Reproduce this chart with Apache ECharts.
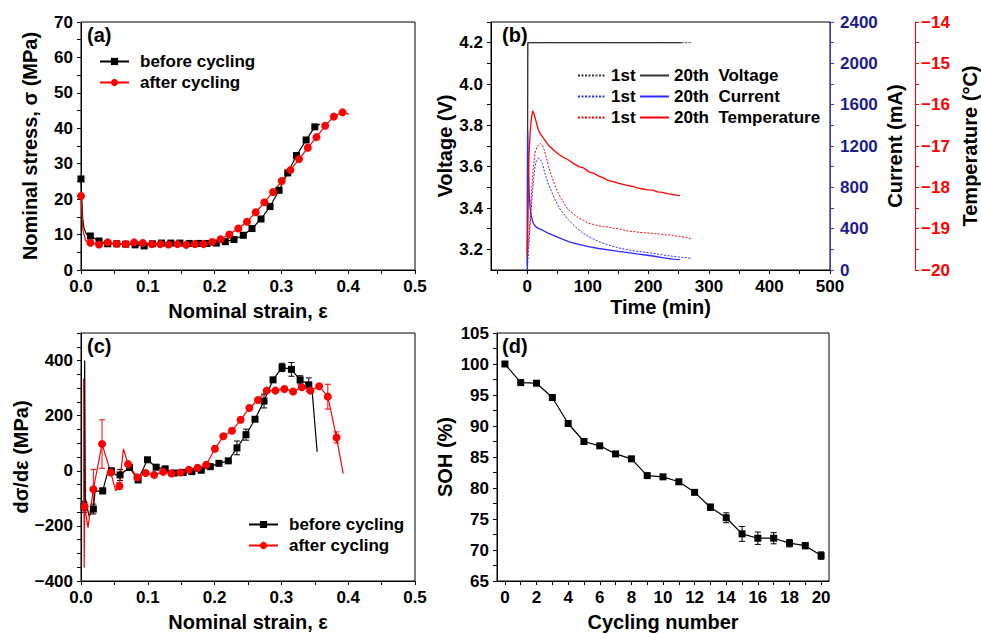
<!DOCTYPE html>
<html>
<head>
<meta charset="utf-8">
<title>Stress-strain and cycling</title>
<script src="https://cdn.jsdelivr.net/npm/echarts@6/dist/echarts.min.js"></script>
<style>
  html, body { margin: 0; padding: 0; background: #fff; }
  #main { width: 981px; height: 634px; }
</style>
</head>
<body>
<div id="main"></div>
<script>
var FONT = "'Liberation Sans', Arial, sans-serif";

// ---------- (a) nominal stress vs strain ----------
var aBeforeStrain = [0, 0.014, 0.027, 0.04, 0.0535, 0.067, 0.081, 0.0945, 0.107, 0.1205, 0.1345, 0.148, 0.162, 0.176, 0.1885, 0.2025, 0.216, 0.229, 0.243, 0.256, 0.2695, 0.283, 0.2965, 0.3095, 0.3225, 0.337, 0.35];
var aBeforeStress = [25.7, 9.6, 8.2, 7.4, 7.4, 7.3, 7.1, 6.8, 7.4, 7.6, 7.6, 7.6, 7.5, 7.5, 7.5, 7.6, 8.0, 8.6, 9.8, 11.7, 14.4, 17.9, 22.5, 27.4, 32.3, 36.7, 40.4];
var aBeforeExtra = [[0.0025, 14.5], [0.0045, 11.8], [0.008, 10.2], [0.358, 41.2]];
var aAfterStrain = [0, 0.014, 0.027, 0.04, 0.0535, 0.067, 0.0795, 0.0925, 0.106, 0.1185, 0.131, 0.1445, 0.1575, 0.1705, 0.1835, 0.1965, 0.209, 0.222, 0.2355, 0.2485, 0.2615, 0.2745, 0.2875, 0.3005, 0.3135, 0.3265, 0.3395, 0.3525, 0.3655, 0.3785, 0.3915];
var aAfterStress = [20.9, 7.7, 7.2, 7.8, 7.4, 7.3, 7.8, 7.6, 7.3, 7.3, 7.2, 7.3, 7.1, 7.3, 7.3, 7.9, 8.7, 10.0, 11.7, 13.6, 16.3, 19.1, 22.0, 25.1, 28.2, 31.3, 34.5, 37.5, 40.7, 43.3, 44.5];
var aAfterExtra = [[0.003, 11], [0.007, 8.3], [0.401, 44]];
var aStrainLabels = [0, 0.1, 0.2, 0.3, 0.4, 0.5];
var aStressLabels = [0, 10, 20, 30, 40, 50, 60, 70];

// ---------- (b) charging curves ----------
var bVolt1T = [0, 0.5, 270];
var bVolt1 = [3.15, 4.2, 4.2];
var bVolt20T = [0, 0.8, 255];
var bVolt20 = [3.12, 4.2, 4.2];
var bCur1T = [0, 2, 4.5, 7.2, 10, 12.7, 15, 18, 21, 25, 29, 35, 40, 46, 55, 68, 80, 90, 101, 118, 134, 150, 167, 181, 195, 212, 230, 250, 272];
var bCur1 = [0, 180, 420, 645, 850, 1000, 1060, 1081, 1075, 1030, 936, 830, 760, 677, 580, 484, 415, 365, 323, 275, 242, 215, 194, 182, 171, 157, 140, 126, 113];
var bCur20T = [0, 0.5, 1.5, 3, 4.4, 6.5, 9.9, 14, 18, 25, 35, 50, 68, 85, 101, 118, 134, 150, 167, 181, 195, 210, 225, 240, 252];
var bCur20 = [0, 1350, 1050, 760, 613, 520, 452, 420, 403, 385, 355, 318, 274, 248, 226, 208, 194, 180, 168, 156, 145, 133, 118, 106, 100];
var bTemp1T = [0, 2, 4.4, 7, 10, 12.7, 16, 19, 22, 25, 28, 31, 35, 39, 43, 47, 51, 56, 62, 68, 76, 85, 93, 101, 110, 118, 126, 134, 142, 150, 159, 167, 176, 185, 194, 204, 212, 220, 229, 237, 246, 255, 264, 272];
var bTemp1 = [-19.7, -19.3, -18.79, -18.1, -17.5, -17.17, -17.02, -16.97, -16.94, -16.98, -17.1, -17.25, -17.5, -17.68, -17.85, -18.0, -18.14, -18.27, -18.42, -18.55, -18.64, -18.74, -18.8, -18.87, -18.9, -18.93, -18.95, -18.96, -18.99, -19.0, -19.03, -19.06, -19.07, -19.09, -19.1, -19.11, -19.12, -19.13, -19.15, -19.15, -19.18, -19.19, -19.22, -19.25];
var bTemp20T = [0, 1, 2.8, 5, 7, 8.8, 11, 14, 18, 22, 26, 30, 35, 42, 50, 58, 68, 76, 85, 93, 101, 110, 118, 126, 134, 142, 150, 158, 167, 175, 183, 191, 199, 207, 215, 223, 231, 239, 246, 252];
var bTemp20 = [-19.6, -18.7, -17.2, -16.6, -16.3, -16.15, -16.22, -16.38, -16.6, -16.72, -16.8, -16.88, -16.98, -17.08, -17.18, -17.26, -17.34, -17.42, -17.5, -17.53, -17.62, -17.66, -17.73, -17.77, -17.84, -17.86, -17.9, -17.93, -17.96, -17.98, -18.02, -18.04, -18.06, -18.07, -18.11, -18.12, -18.15, -18.17, -18.19, -18.2];
var bTimeLabels = [0, 100, 200, 300, 400, 500];
var bVoltLabels = [3.2, 3.4, 3.6, 3.8, 4.0, 4.2];
var bCurLabels = [0, 400, 800, 1200, 1600, 2000, 2400];
var bTempLabels = [-20, -19, -18, -17, -16, -15, -14];

// ---------- (c) tangent modulus ----------
var cBeforeStrain = [0.0045, 0.0185, 0.0325, 0.0455, 0.0585, 0.0725, 0.0855, 0.0995, 0.1125, 0.126, 0.1395, 0.153, 0.166, 0.18, 0.1935, 0.2065, 0.2205, 0.2335, 0.247, 0.2605, 0.274, 0.2875, 0.301, 0.315, 0.328, 0.341];
var cBeforeVal = [-131, -139, -73, 0, -15, 12, -33, 40, 13, 7, -8, -6, -3, 2, 15, 27, 36, 83, 131, 187, 253, 330, 375, 368, 330, 312];
var cBeforeErr = [20, 18, 10, 8, 20, 8, 10, 6, 5, 4, 4, 4, 4, 4, 4, 4, 5, 25, 20, 8, 25, 8, 15, 25, 15, 25];
var cBeforeExtra = [[0.0055, 400], [0.0065, -100], [0.012, -165], [0.021, -75], [0.04, -5], [0.052, -15], [0.346, 290], [0.3535, 69]];
var cAfterStrain = [0.0055, 0.0185, 0.0315, 0.0445, 0.0575, 0.0705, 0.0843, 0.0968, 0.1095, 0.123, 0.1355, 0.149, 0.1615, 0.1745, 0.1875, 0.2005, 0.213, 0.226, 0.239, 0.252, 0.265, 0.278, 0.291, 0.3045, 0.3175, 0.3305, 0.3435, 0.3565, 0.3695, 0.3825];
var cAfterVal = [-130, -67, 97, -6, -55, 24, -24, -8, -15, -4, -10, -6, 4, 11, 22, 80, 125, 145, 185, 228, 257, 291, 291, 297, 288, 303, 291, 307, 269, 121];
var cAfterErr = [15, 72, 88, 8, 12, 6, 8, 6, 5, 4, 4, 4, 4, 4, 5, 10, 6, 5, 5, 5, 6, 5, 5, 5, 5, 5, 5, 5, 45, 20];
var cAfterExtra = [[0.004, 335], [0.0048, -352], [0.0105, -206], [0.052, -73], [0.0635, 79], [0.3925, -10]];
var cModLabels = [-400, -200, 0, 200, 400];

// ---------- (d) state of health ----------
var dCycle = [0, 1, 2, 3, 4, 5, 6, 7, 8, 9, 10, 11, 12, 13, 14, 15, 16, 17, 18, 19, 20];
var dSoh = [100, 97.0, 96.9, 94.6, 90.4, 87.5, 86.8, 85.5, 84.7, 82.0, 81.8, 81.0, 79.3, 76.9, 75.2, 72.6, 71.9, 71.9, 71.1, 70.7, 69.1];
var dSohErr = [0.2, 0.2, 0.2, 0.2, 0.3, 0.2, 0.2, 0.2, 0.2, 0.3, 0.2, 0.2, 0.3, 0.5, 0.8, 1.2, 1.0, 0.9, 0.6, 0.5, 0.6];
var dCycleLabels = [0, 2, 4, 6, 8, 10, 12, 14, 16, 18, 20];
var dSohLabels = [65, 70, 75, 80, 85, 90, 95, 100, 105];

// tick positions between min and max
function steps(from, to, step) {
  var out = [];
  for (var v = from; v <= to + step / 1000; v += step) out.push(Math.round(v * 1e6) / 1e6);
  return out;
}
function zip(xs, ys) {
  return xs.map(function (x, i) { return [x, ys[i]]; });
}
// markers plus extra curve points without a marker, in strain order
function withExtras(xs, ys, extra) {
  var pts = xs.map(function (x, i) { return { value: [x, ys[i]] }; });
  extra.forEach(function (p) { pts.push({ value: p, symbol: 'none' }); });
  pts.sort(function (a, b) { return a.value[0] - b.value[0]; });
  return pts;
}
function errData(xs, ys, es) {
  return xs.map(function (x, i) { return [x, ys[i] - es[i], ys[i] + es[i]]; });
}
function errSeries(xi, yi, data, color) {
  return {
    type: 'custom', xAxisIndex: xi, yAxisIndex: yi, data: data, z: 3, silent: true,
    encode: { x: 0, y: [1, 2] },
    renderItem: function (params, api) {
      var lo = api.coord([api.value(0), api.value(1)]);
      var hi = api.coord([api.value(0), api.value(2)]);
      var st = { stroke: color, lineWidth: 1 };
      return { type: 'group', children: [
        { type: 'line', shape: { x1: lo[0], y1: lo[1], x2: hi[0], y2: hi[1] }, style: st },
        { type: 'line', shape: { x1: lo[0] - 3, y1: lo[1], x2: lo[0] + 3, y2: lo[1] }, style: st },
        { type: 'line', shape: { x1: hi[0] - 3, y1: hi[1], x2: hi[0] + 3, y2: hi[1] }, style: st }
      ] };
    }
  };
}

function plain(v) { return String(v); }
function minus(v) { return (v < 0 ? '\u2212' : '') + Math.abs(v); }
function oneDec(v) { return v.toFixed(1); }

function axis(gridIndex, min, max, labels, ticks, fmt) {
  return {
    type: 'value', gridIndex: gridIndex, min: min, max: max,
    splitLine: { show: false },
    axisLine: { show: true, onZero: false, lineStyle: { color: '#000', width: 1 } },
    axisTick: { show: true, length: 4, customValues: ticks, lineStyle: { color: '#000' } },
    axisLabel: {
      customValues: labels, formatter: fmt || plain, margin: 8,
      color: '#000', fontSize: 17, fontWeight: 'bold', fontFamily: FONT
    },
    nameLocation: 'middle',
    nameTextStyle: { color: '#000', fontSize: 20, fontWeight: 'bold', fontFamily: FONT }
  };
}

var xA = axis(0, 0, 0.5, aStrainLabels, steps(0, 0.5, 0.05), oneDec);
xA.name = 'Nominal strain, \u03b5'; xA.nameGap = 31;
var yA = axis(0, 0, 70, aStressLabels, steps(0, 70, 5));
yA.name = 'Nominal stress, \u03c3 (MPa)'; yA.nameGap = 41; yA.nameRotate = 90;

var xB = axis(1, -60, 500, bTimeLabels, steps(-50, 500, 50));
xB.name = 'Time (min)'; xB.nameGap = 27;
var yBV = axis(1, 3.1, 4.3, bVoltLabels, steps(3.2, 4.3, 0.1), oneDec);
yBV.name = 'Voltage (V)'; yBV.nameGap = 36; yBV.nameRotate = 90;
var yBI = axis(1, 0, 2400, bCurLabels, steps(0, 2400, 200));
yBI.position = 'right'; yBI.name = 'Current (mA)'; yBI.nameGap = 55; yBI.nameRotate = 90;
yBI.axisLine.lineStyle.color = '#3a3ac8'; yBI.axisTick.lineStyle.color = '#3a3ac8';
yBI.axisLabel.color = '#1c1c8c'; yBI.axisLabel.margin = 10;
var yBT = axis(1, -20, -14, bTempLabels, steps(-20, -14, 0.5), minus);
yBT.position = 'right'; yBT.offset = 85; yBT.name = 'Temperature (\u00b0C)'; yBT.nameGap = 45; yBT.nameRotate = 90;
yBT.axisLine.lineStyle.color = '#ff0000'; yBT.axisTick.lineStyle.color = '#ff0000';
yBT.axisLabel.color = '#ff0000'; yBT.axisLabel.margin = 6;

var xC = axis(2, 0, 0.5, aStrainLabels, steps(0, 0.5, 0.05), oneDec);
xC.name = 'Nominal strain, \u03b5'; xC.nameGap = 31;
var yC = axis(2, -400, 500, cModLabels, steps(-400, 500, 50), minus);
yC.name = 'd\u03c3/d\u03b5 (MPa)'; yC.nameGap = 46; yC.nameRotate = 90;

var xD = axis(3, -0.5, 20.5, dCycleLabels, steps(0, 20, 1));
xD.name = 'Cycling number'; xD.nameGap = 31;
var yD = axis(3, 65, 105, dSohLabels, steps(65, 105, 2.5));
yD.name = 'SOH (%)'; yD.nameGap = 42; yD.nameRotate = 90;

var BLUE = '#2a2aff', RED = '#ff0000';
var legendText = { color: '#000', fontSize: 17, fontWeight: 'bold', fontFamily: FONT, padding: [0, 0, 0, 6] };
var legendTextB = { color: '#000', fontSize: 17, fontWeight: 'bold', fontFamily: FONT };
var labelStyle = { color: '#000', fontSize: 20, fontWeight: 'bold', fontFamily: FONT };

function lineSeries(name, xi, yi, data, color, symbol, size) {
  return {
    name: name, type: 'line', xAxisIndex: xi, yAxisIndex: yi, data: data,
    symbol: symbol, symbolSize: size, showAllSymbol: true,
    lineStyle: { color: color, width: 1.2 }, itemStyle: { color: color },
    z: 4
  };
}
function bLine(name, yi, t, v, color, dotted) {
  return {
    name: name, type: 'line', xAxisIndex: 1, yAxisIndex: yi, data: zip(t, v),
    symbol: 'none',
    lineStyle: { color: color, width: dotted ? 1 : 1.3, type: dotted ? [2, 1.5] : 'solid' },
    itemStyle: { color: color }
  };
}

var option = {
  animation: false,
  backgroundColor: '#fff',
  textStyle: { fontFamily: FONT },
  title: [
    { text: '(a)', left: 87, top: 25, padding: 0, textStyle: labelStyle },
    { text: '(b)', left: 502, top: 25, padding: 0, textStyle: labelStyle },
    { text: '(c)', left: 87, top: 336, padding: 0, textStyle: labelStyle },
    { text: '(d)', left: 502, top: 336, padding: 0, textStyle: labelStyle }
  ],
  grid: [
    { left: 81, top: 22, width: 334, height: 248, show: true, borderColor: '#000', borderWidth: 1 },
    { left: 491, top: 22, width: 340, height: 248, show: true, borderColor: '#000', borderWidth: 1 },
    { left: 81, top: 333, width: 334, height: 248, show: true, borderColor: '#000', borderWidth: 1 },
    { left: 497, top: 333, width: 332, height: 248, show: true, borderColor: '#000', borderWidth: 1 }
  ],
  xAxis: [xA, xB, xC, xD],
  yAxis: [yA, yBV, yBI, yBT, yC, yD],
  legend: [
    { data: ['before cycling', 'after cycling'], orient: 'vertical', left: 99, top: 53, padding: 0,
      itemWidth: 29, itemHeight: 9, itemGap: 4, textStyle: legendText },
    { data: ['before cycling', 'after cycling'], orient: 'vertical', left: 248, top: 516, padding: 0,
      itemWidth: 29, itemHeight: 9, itemGap: 4, textStyle: legendText },
    { data: ['1st Voltage', '1st Current', '1st Temperature'], orient: 'vertical', left: 577, top: 67, padding: 0,
      itemWidth: 28, itemHeight: 9, itemGap: 4, textStyle: legendTextB, itemStyle: { opacity: 0 },
      formatter: function () { return '1st'; } },
    { data: ['20th Voltage', '20th Current', '20th Temperature'], orient: 'vertical', left: 639, top: 67, padding: 0,
      itemWidth: 29, itemHeight: 9, itemGap: 4, textStyle: legendTextB, itemStyle: { opacity: 0 },
      formatter: function (name) { return name.replace(' ', '  '); } }
  ],
  series: [
    lineSeries('before cycling', 0, 0, withExtras(aBeforeStrain, aBeforeStress, aBeforeExtra), '#000', 'rect', 7),
    lineSeries('after cycling', 0, 0, withExtras(aAfterStrain, aAfterStress, aAfterExtra), RED, 'circle', 8),

    bLine('1st Voltage', 1, bVolt1T, bVolt1, '#333', true),
    bLine('20th Voltage', 1, bVolt20T, bVolt20, '#333', false),
    bLine('1st Current', 2, bCur1T, bCur1, BLUE, true),
    bLine('20th Current', 2, bCur20T, bCur20, BLUE, false),
    bLine('1st Temperature', 3, bTemp1T, bTemp1, RED, true),
    bLine('20th Temperature', 3, bTemp20T, bTemp20, RED, false),

    lineSeries('before cycling', 2, 4, withExtras(cBeforeStrain, cBeforeVal, cBeforeExtra), '#000', 'rect', 7),
    errSeries(2, 4, errData(cBeforeStrain, cBeforeVal, cBeforeErr), '#000'),
    lineSeries('after cycling', 2, 4, withExtras(cAfterStrain, cAfterVal, cAfterExtra), RED, 'circle', 8),
    errSeries(2, 4, errData(cAfterStrain, cAfterVal, cAfterErr), RED),

    lineSeries('SOH', 3, 5, zip(dCycle, dSoh), '#000', 'rect', 7),
    errSeries(3, 5, errData(dCycle, dSoh, dSohErr), '#000')
  ]
};

var chart = echarts.init(document.getElementById('main'), null, { renderer: 'svg' });
chart.setOption(option);
</script>
</body>
</html>
